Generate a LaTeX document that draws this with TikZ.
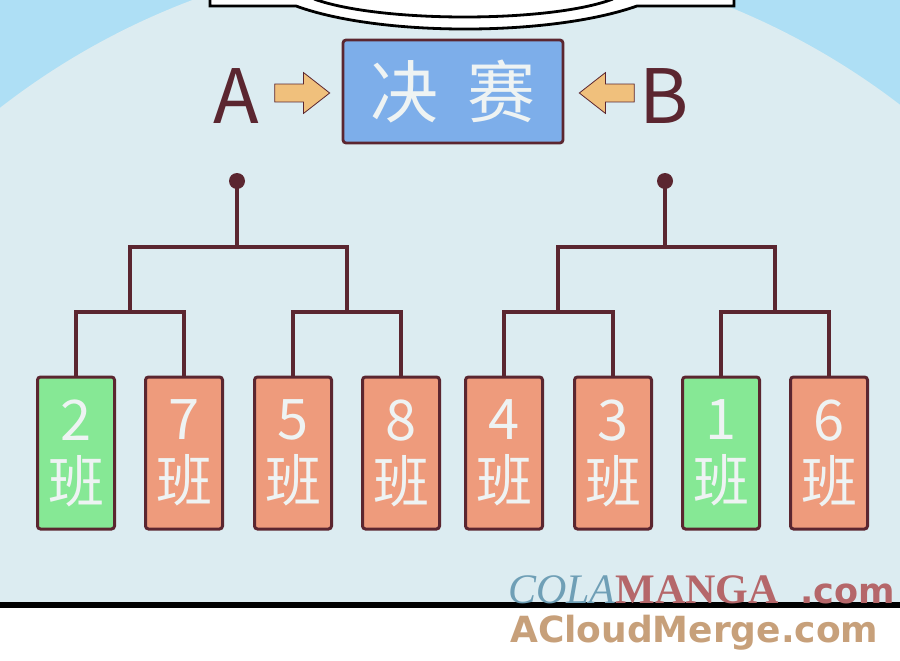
\documentclass[tikz,border=0pt]{standalone}
\usepackage{fontspec}
\usepackage{tikz}
\usetikzlibrary{shapes.arrows}
\newfontfamily\cjk{Noto Sans CJK SC}
\newfontfamily\wmserif{Liberation Serif}
\newfontfamily\wmsans{DejaVu Sans}
\definecolor{skyout}{HTML}{AEDFF5}
\definecolor{skyin}{HTML}{DCECF1}
\definecolor{wire}{HTML}{5B2630}
\definecolor{finalblue}{HTML}{7DAEEA}
\definecolor{wingreen}{HTML}{86E895}
\definecolor{losered}{HTML}{EE9B7C}
\definecolor{arrowfill}{HTML}{F0C07C}
\definecolor{chalk}{HTML}{EEF3F3}
\definecolor{wmblue}{HTML}{6F9FB6}
\definecolor{wmred}{HTML}{B5676A}
\definecolor{wmtan}{HTML}{C7A07A}

\begin{document}
\begin{tikzpicture}[x=1pt,y=-1pt,
	every node/.style={inner sep=0pt},
	line/.style={draw=wire, line width=3.5pt},
	team/.style={draw=wire, line width=3pt, fill=#1, rounded corners=3pt,
		minimum width=77pt, minimum height=152pt, align=center, text=chalk,
		font=\cjk\fontsize{56}{62}\selectfont},
	fatarrow/.style={single arrow, draw=wire, line width=0.8pt, fill=arrowfill,
		inner xsep=0pt, inner ysep=8.5pt, minimum height=55pt,
		single arrow head extend=11.5pt, single arrow tip angle=76},
	side/.style={anchor=base, text=wire, font=\cjk\fontsize{75}{75}\selectfont}]
	\useasboundingbox (0,0) rectangle (900,661);
	% background
	\fill[skyout] (0,0) rectangle (900,605);
	\begin{scope}
		\clip (0,0) rectangle (900,605);
		\fill[skyin] (452,690) circle (737);
	\end{scope}
	\fill[white] (0,605) rectangle (900,661);
	\draw[black, line width=6pt] (0,605) -- (900,605);
	% top bubble
	\fill[white] (210,-5) rectangle (734,6);
	\fill[white] (296,6) .. controls (380,36.7) and (550,36.7) .. (637,6) -- cycle;
	\draw[black, line width=2.8pt] (210,-5) -- (210,6) -- (296,6) .. controls (380,36.7) and (550,36.7) .. (637,6) -- (734,6) -- (734,-5);
	\draw[black, line width=2.8pt] (314,-1) .. controls (380,23) and (550,23) .. (613,-1);
	% final
	\node[draw=wire, line width=2.8pt, fill=finalblue, rounded corners=3pt,
		minimum width=220pt, minimum height=103pt, text=chalk,
		font=\cjk\fontsize{68}{68}\selectfont] (final) at (453,91.5) {决\hspace{30pt}赛};
	\node[side] (labA) at (236,123) {A};
	\node[side] (labB) at (664,123) {B};
	\node[fatarrow] (arrA) at (296.5,93) {};
	\node[fatarrow, shape border rotate=180] (arrB) at (612.5,93) {};
	% teams
	\foreach \n/\x/\c/\t in {1/76/wingreen/2, 2/184/losered/7, 3/293/losered/5, 4/401/losered/8,
		5/504/losered/4, 6/613/losered/3, 7/721/wingreen/1, 8/829/losered/6}
		\node[team=\c] (t\n) at (\x,453) {\t\\班};
	% brackets
	\coordinate (p1) at (130,312); \coordinate (p2) at (347,312);
	\coordinate (p3) at (558,312); \coordinate (p4) at (775,312);
	\coordinate (qA) at (237,247); \coordinate (qB) at (665,247);
	\node[circle, fill=wire, minimum size=16pt] (dotA) at (237,181) {};
	\node[circle, fill=wire, minimum size=16pt] (dotB) at (665,181) {};
	\draw[line] (t1.north) |- (p1) -| (t2.north);
	\draw[line] (t3.north) |- (p2) -| (t4.north);
	\draw[line] (t5.north) |- (p3) -| (t6.north);
	\draw[line] (t7.north) |- (p4) -| (t8.north);
	\draw[line] (p1) |- (qA) -| (p2);
	\draw[line] (p3) |- (qB) -| (p4);
	\draw[line] (qA) -- (dotA.center);
	\draw[line] (qB) -- (dotB.center);
	% watermark
	\node[anchor=base west, font=\wmserif\fontsize{42}{42}\selectfont] (wmA) at (508,603)
		{\textcolor{wmblue}{\itshape COLA}\textcolor{wmred}{\bfseries MANGA}};
	\node[anchor=base west, text=wmred, font=\wmsans\bfseries\fontsize{35}{35}\selectfont] (wmB) at (800,603) {.com};
	\node[anchor=base west, text=wmtan, font=\wmsans\bfseries\fontsize{36}{36}\selectfont] (wmC) at (510,642) {ACloudMerge.com};
\end{tikzpicture}
\end{document}
